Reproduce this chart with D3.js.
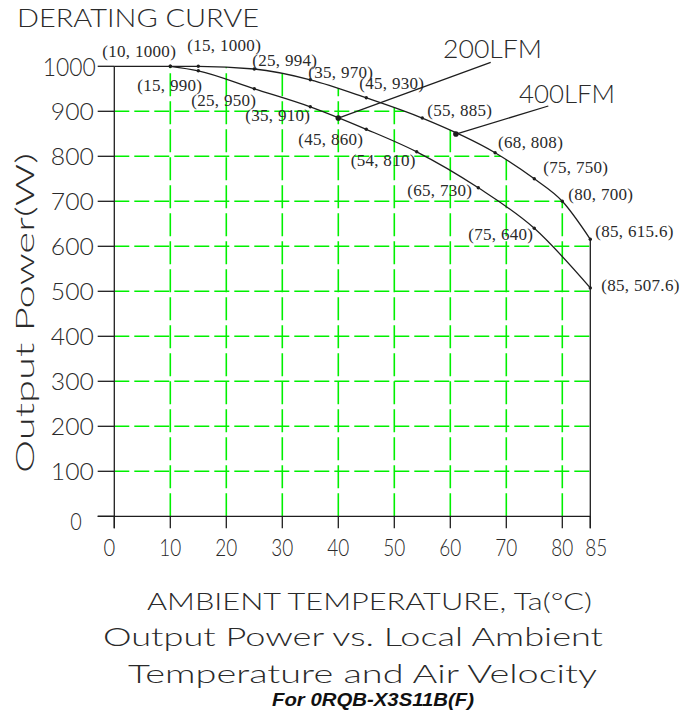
<!DOCTYPE html>
<html>
<head>
<meta charset="utf-8">
<script src="https://cdn.jsdelivr.net/npm/d3@7"></script>
<style>
  html, body { margin: 0; padding: 0; background: #fff; }
  svg { display: block; }
</style>
</head>
<body>
<div id="chart"></div>
<script>
// Derating curve: output power (W) against ambient temperature (°C)
const temps400 = [10, 15, 25, 35, 45, 55, 68, 75, 80, 85];
const power400 = [1000, 1000, 994, 970, 930, 885, 808, 750, 700, 615.6];
const temps200 = [10, 15, 25, 35, 45, 54, 65, 75, 85];
const power200 = [1000, 990, 950, 910, 860, 810, 730, 640, 507.6];
const xTicks = [0, 10, 20, 30, 40, 50, 60, 70, 80, 85];
const yTicks = [0, 100, 200, 300, 400, 500, 600, 700, 800, 900, 1000];
const xGrid = [10, 20, 30, 40, 50, 60, 70, 80];
const yGrid = [100, 200, 300, 400, 500, 600, 700, 800, 900];
const seriesNames = ["200LFM", "400LFM"];
const titleText = "DERATING CURVE";
const yTitle = "Output Power(W)";
const xTitle = "AMBIENT TEMPERATURE, Ta(°C)";
const captionLines = ["Output Power vs. Local Ambient", "Temperature and Air Velocity"];
const modelText = "For 0RQB-X3S11B(F)";

const W = 683, H = 713;
const cadFont = "Lato, 'DejaVu Sans', sans-serif";
const ink = "#1e1e1e";

const svg = d3.select("#chart").append("svg")
  .attr("width", W).attr("height", H)
  .attr("viewBox", `0 0 ${W} ${H}`);

const x = d3.scaleLinear().domain([0, 85]).range([114.3, 590.3]);
const y = d3.scaleLinear().domain([0, 1000]).range([516.3, 66.3]);

const pts400 = temps400.map((t, i) => [t, power400[i]]);
const pts200 = temps200.map((t, i) => [t, power200[i]]);

// text in a plain drafting style, stretched to a fixed run length
function cadText(g, str, px, py, len, size, anchor) {
  return g.append("text")
    .attr("x", px).attr("y", py)
    .attr("font-family", cadFont)
    .attr("font-weight", 300)
    .attr("font-size", size)
    .attr("fill", "#2a2a2a")
    .attr("text-anchor", anchor || "start")
    .attr("textLength", len)
    .attr("lengthAdjust", "spacingAndGlyphs")
    .text(str);
}

// grid, kept below the 400LFM curve
const curve = d3.curveMonotoneX;
const clipArea = d3.area()
  .x(d => x(d[0])).y0(y(0)).y1(d => y(d[1])).curve(curve);
svg.append("clipPath").attr("id", "underCurve")
  .append("path").attr("d", clipArea([[0, power400[0]], ...pts400]));

const grid = svg.append("g").attr("clip-path", "url(#underCurve)")
  .attr("stroke", "#00f000").attr("stroke-width", 1.6).attr("fill", "none");
grid.selectAll("line.h").data(yGrid).join("line").attr("class", "h")
  .attr("x1", x(0)).attr("x2", x(85))
  .attr("y1", d => y(d)).attr("y2", d => y(d))
  .attr("stroke-dasharray", "15,5");
grid.selectAll("line.v").data(xGrid).join("line").attr("class", "v")
  .attr("x1", d => x(d)).attr("x2", d => x(d))
  .attr("y1", y(0)).attr("y2", y(1000))
  .attr("stroke-dasharray", "23,5");

// axes
const axes = svg.append("g").attr("stroke", ink).attr("stroke-width", 1.3).attr("fill", "none");
axes.append("line").attr("x1", x(0)).attr("x2", x(0)).attr("y1", y(1000)).attr("y2", y(0) + 12);
axes.append("line").attr("x1", x(0) - 16.6).attr("x2", x(85)).attr("y1", y(0)).attr("y2", y(0));
axes.selectAll("line.yt").data(yTicks).join("line").attr("class", "yt")
  .attr("x1", x(0) - 16.6).attr("x2", x(0))
  .attr("y1", d => y(d)).attr("y2", d => y(d));
axes.selectAll("line.xt").data(xTicks).join("line").attr("class", "xt")
  .attr("x1", d => x(d)).attr("x2", d => x(d))
  .attr("y1", y(0)).attr("y2", y(0) + 12);
// right-hand limit at the last temperature
axes.append("line")
  .attr("x1", x(85)).attr("x2", x(85))
  .attr("y1", y(power400[power400.length - 1])).attr("y2", y(0) + 12);

// tick labels
const tickG = svg.append("g");
yTicks.forEach(v => {
  const s = String(v);
  if (v === 0) {
    cadText(tickG, s, x(0) - 44, y(v) + 13.5, 11.5, 24);
  } else if (v === 1000) {
    cadText(tickG, s, x(0) - 18.5, y(v) + 9.6, 53, 26, "end");
  } else {
    cadText(tickG, s, x(0) - 20.5, y(v) + 8.6, 43, 24, "end");
  }
});
xTicks.forEach(v => {
  const s = String(v);
  let cx = x(v), len = s.length === 1 ? 11.7 : 22;
  if (v === 0) cx -= 5;
  if (v === 85) cx += 6;
  cadText(tickG, s, cx, 556, len, 24, "middle");
});

// curves
const line = d3.line().x(d => x(d[0])).y(d => y(d[1])).curve(curve);
const curves = svg.append("g").attr("fill", "none").attr("stroke", ink).attr("stroke-width", 1.3);
curves.append("line")
  .attr("x1", x(0)).attr("x2", x(temps400[0]))
  .attr("y1", y(power400[0])).attr("y2", y(power400[0]));
curves.append("path").attr("d", line(pts400));
curves.append("path").attr("d", line(pts200));

// data points
const dots = svg.append("g").attr("fill", ink);
dots.selectAll("circle.a").data(pts400).join("circle").attr("class", "a")
  .attr("cx", d => x(d[0])).attr("cy", d => y(d[1])).attr("r", 1.7);
dots.selectAll("circle.b").data(pts200).join("circle").attr("class", "b")
  .attr("cx", d => x(d[0])).attr("cy", d => y(d[1])).attr("r", 1.7);

// point labels (offsets in px from each point)
const labelOffset400 = [[-68, -9], [-11, -15], [-2, -3], [-2, -2], [-7, -9], [5, -2], [3, -5], [9, -6], [6, -1], [5, -2]];
const labelOffset200 = [null, [-61, 20], [-63, 17], [-65, 14], [-68, 16], [-66, 14], [-71, 8], [-66, 12], [11, 3]];
const labG = svg.append("g")
  .attr("font-family", "'Liberation Serif', 'Times New Roman', serif")
  .attr("font-size", 17).attr("fill", "#2a2a2a");
function drawLabels(pts, offs) {
  pts.forEach((d, i) => {
    const o = offs[i];
    if (!o) return;
    labG.append("text")
      .attr("x", x(d[0]) + o[0]).attr("y", y(d[1]) + o[1])
      .attr("letter-spacing", 0.3)
      .text(`(${d[0]}, ${d[1]})`);
  });
}
drawLabels(pts400, labelOffset400);
drawLabels(pts200, labelOffset200);

// series call-outs with leaders to their curves
function interp(pts, t) {
  const i = d3.bisector(d => d[0]).left(pts, t);
  const a = pts[i - 1], b = pts[i];
  return a[1] + (b[1] - a[1]) * (t - a[0]) / (b[0] - a[0]);
}
const callouts = [
  { name: seriesNames[0], pts: pts200, t: 40, tx: 443, ty: 58.3, len: 99, lx: 490.7, ly: 62.3 },
  { name: seriesNames[1], pts: pts400, t: 61, tx: 519, ty: 103.3, len: 96, lx: 548.3, ly: 106 }
];
callouts.forEach(c => {
  const px = x(c.t), py = y(interp(c.pts, c.t));
  svg.append("line").attr("x1", c.lx).attr("y1", c.ly).attr("x2", px).attr("y2", py)
    .attr("stroke", ink).attr("stroke-width", 1.3);
  svg.append("circle").attr("cx", px).attr("cy", py).attr("r", 2.8).attr("fill", ink);
  cadText(svg, c.name, c.tx, c.ty, c.len, 25);
});

// titles
cadText(svg, titleText, 17, 26.7, 242, 26);
cadText(svg, yTitle, 0, 0, 320, 25)
  .attr("transform", "translate(34,473) rotate(-90)");
cadText(svg, xTitle, 147, 610, 445, 24);
cadText(svg, captionLines[0], 103, 646, 500, 26);
cadText(svg, captionLines[1], 128, 683, 469, 26);
svg.append("text")
  .attr("x", 272).attr("y", 706)
  .attr("font-family", "'Liberation Sans', Arial, sans-serif")
  .attr("font-weight", "bold").attr("font-style", "italic")
  .attr("font-size", 18.5).attr("fill", "#111")
  .attr("textLength", 202).attr("lengthAdjust", "spacingAndGlyphs")
  .text(modelText);
</script>
</body>
</html>
